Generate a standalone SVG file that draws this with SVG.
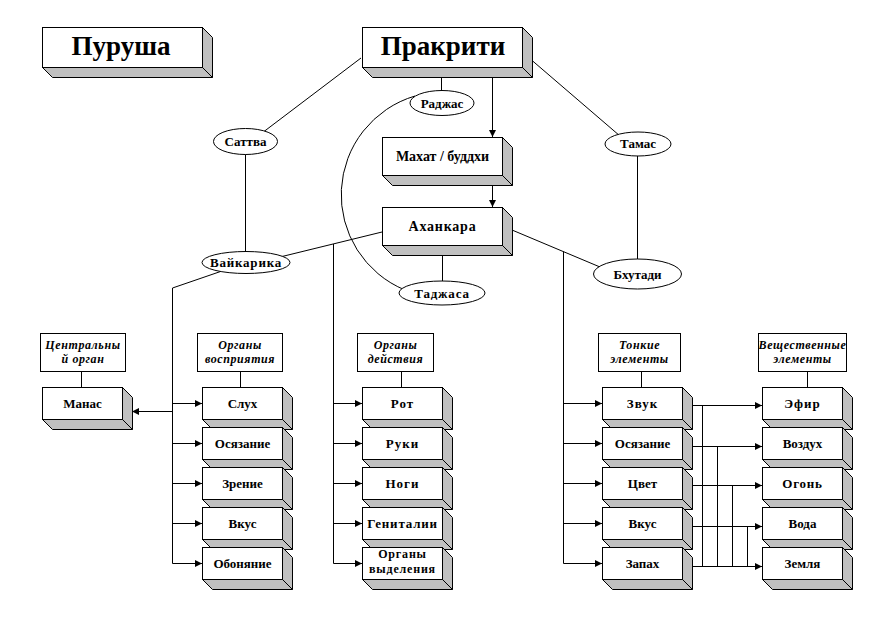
<svg xmlns="http://www.w3.org/2000/svg" width="890" height="618" viewBox="0 0 890 618">
<defs>
<marker id="ah" markerUnits="userSpaceOnUse" markerWidth="7" markerHeight="7" refX="7" refY="3.5" orient="auto">
<path d="M0,0 L7,3.5 L0,7 z" fill="#000"/>
</marker>
<style>
.s{fill:#c0c0c0;stroke:#000;stroke-width:1}
.f{fill:#fff;stroke:#000;stroke-width:1}
.e{fill:#fff;stroke:#000;stroke-width:1}
.k{stroke:#000;stroke-width:1}
.c path,.c line{fill:none;stroke:#000;stroke-width:1}
.a{marker-end:url(#ah)}
text{font-family:'Liberation Serif','DejaVu Serif',serif;font-weight:bold;text-anchor:middle;fill:#000}
.big{font-size:27px}
.mid{font-size:14px}
.sm{font-size:13px}
.el{font-size:13px}
.hd{font-size:12px;font-style:italic;letter-spacing:0.6px}
.two{font-size:12px;letter-spacing:0.8px}
</style>
</defs>
<rect width="890" height="618" fill="#fff"/>

<g id="connectors" class="c">
<line x1="361" y1="58" x2="262" y2="133"/>
<line x1="528" y1="57" x2="620" y2="136"/>
<line x1="441.5" y1="77" x2="441.5" y2="92"/>
<line class="a" x1="492.5" y1="77" x2="492.5" y2="137"/>
<line class="a" x1="492.5" y1="185" x2="492.5" y2="207"/>
<line x1="245.5" y1="150" x2="245.5" y2="256"/>
<line x1="382" y1="232" x2="280" y2="257"/>
<line x1="333.5" y1="244" x2="333.5" y2="563.5"/>
<path d="M222,271 L172.5,288 V563.5"/>
<line x1="442.5" y1="255" x2="442.5" y2="284"/>
<path d="M415,96 A103,103 0 0 0 405,290"/>
<line x1="512" y1="230" x2="600" y2="267"/>
<line x1="563.5" y1="251.5" x2="563.5" y2="563.5"/>
<line x1="637.5" y1="156" x2="637.5" y2="262"/>
<line x1="81.5" y1="372" x2="81.5" y2="388"/>
<line x1="240.5" y1="372" x2="240.5" y2="388"/>
<line x1="401.5" y1="372" x2="401.5" y2="388"/>
<line x1="641.5" y1="372" x2="641.5" y2="388"/>
<line x1="807.5" y1="372" x2="807.5" y2="388"/>
<line class="a" x1="172.5" y1="411.5" x2="132" y2="411.5"/>
<line class="a" x1="172.5" y1="403.5" x2="202" y2="403.5"/>
<line class="a" x1="172.5" y1="443.5" x2="202" y2="443.5"/>
<line class="a" x1="172.5" y1="483.5" x2="202" y2="483.5"/>
<line class="a" x1="172.5" y1="523.5" x2="202" y2="523.5"/>
<line class="a" x1="172.5" y1="563.5" x2="202" y2="563.5"/>
<line class="a" x1="333.5" y1="403.5" x2="362" y2="403.5"/>
<line class="a" x1="333.5" y1="443.5" x2="362" y2="443.5"/>
<line class="a" x1="333.5" y1="483.5" x2="362" y2="483.5"/>
<line class="a" x1="333.5" y1="523.5" x2="362" y2="523.5"/>
<line class="a" x1="333.5" y1="563.5" x2="362" y2="563.5"/>
<line class="a" x1="563.5" y1="403.5" x2="602" y2="403.5"/>
<line class="a" x1="563.5" y1="443.5" x2="602" y2="443.5"/>
<line class="a" x1="563.5" y1="483.5" x2="602" y2="483.5"/>
<line class="a" x1="563.5" y1="523.5" x2="602" y2="523.5"/>
<line class="a" x1="563.5" y1="563.5" x2="602" y2="563.5"/>
<line class="a" x1="685" y1="405.5" x2="762" y2="405.5"/>
<line class="a" x1="685" y1="446.5" x2="762" y2="446.5"/>
<line class="a" x1="685" y1="485.5" x2="762" y2="485.5"/>
<line class="a" x1="685" y1="526.5" x2="762" y2="526.5"/>
<line class="a" x1="685" y1="566.5" x2="762" y2="566.5"/>
<line x1="702.5" y1="405.5" x2="702.5" y2="566.5"/>
<line x1="717.5" y1="446.5" x2="717.5" y2="566.5"/>
<line x1="732.5" y1="485.5" x2="732.5" y2="566.5"/>
<line x1="747.5" y1="526.5" x2="747.5" y2="566.5"/>
</g>

<g id="purusha">
<polygon class="s" points="42.5,67.5 202.5,67.5 202.5,27.5 212.5,37.5 212.5,77.5 52.5,77.5"/>
<line class="k" x1="202.5" y1="67.5" x2="212.5" y2="77.5"/>
<rect class="f" x="42.5" y="27.5" width="160" height="40"/>
<text class="big" x="121" y="55">Пуруша</text>
</g>
<g id="prakriti">
<polygon class="s" points="362.5,67.5 522.5,67.5 522.5,27.5 532.5,37.5 532.5,77.5 372.5,77.5"/>
<line class="k" x1="522.5" y1="67.5" x2="532.5" y2="77.5"/>
<rect class="f" x="362.5" y="27.5" width="160" height="40"/>
<text class="big" x="443" y="55">Пракрити</text>
</g>
<g id="mahat">
<polygon class="s" points="382.5,175.5 502.5,175.5 502.5,137.5 512.5,147.5 512.5,185.5 392.5,185.5"/>
<line class="k" x1="502.5" y1="175.5" x2="512.5" y2="185.5"/>
<rect class="f" x="382.5" y="137.5" width="120" height="38"/>
<text class="mid" x="442.5" y="161">Махат / буддхи</text>
</g>
<g id="ahankara">
<polygon class="s" points="382.5,245.5 502.5,245.5 502.5,207.5 512.5,217.5 512.5,255.5 392.5,255.5"/>
<line class="k" x1="502.5" y1="245.5" x2="512.5" y2="255.5"/>
<rect class="f" x="382.5" y="207.5" width="120" height="38"/>
<text class="mid" x="442.5" y="231" style="letter-spacing:0.8px">Аханкара</text>
</g>

<g id="sattva"><ellipse class="e" cx="245.5" cy="141.5" rx="32" ry="13"/><text class="el" x="245.5" y="146">Саттва</text></g>
<g id="rajas"><ellipse class="e" cx="442" cy="103" rx="32" ry="12.5"/><text class="el" x="442" y="107.5">Раджас</text></g>
<g id="tamas"><ellipse class="e" cx="638" cy="144" rx="33" ry="12"/><text class="el" x="638" y="148">Тамас</text></g>
<g id="vaikarika"><ellipse class="e" cx="246" cy="262.5" rx="44" ry="11"/><text class="el" x="246" y="267" style="letter-spacing:0.8px">Вайкарика</text></g>
<g id="tajasa"><ellipse class="e" cx="442" cy="293" rx="43" ry="12"/><text class="el" x="442" y="297.5" style="letter-spacing:0.8px">Таджаса</text></g>
<g id="bhutadi"><ellipse class="e" cx="637.5" cy="274" rx="44" ry="15"/><text class="el" x="637.5" y="278.5">Бхутади</text></g>

<g id="h-central"><rect class="f" x="40.5" y="333.5" width="85" height="38"/><text class="hd" x="83" y="349">Центральны</text><text class="hd" x="83" y="363">й орган</text></g>
<g id="h-perception"><rect class="f" x="197.5" y="333.5" width="85" height="38"/><text class="hd" x="240" y="349">Органы</text><text class="hd" x="240" y="363">восприятия</text></g>
<g id="h-action"><rect class="f" x="357.5" y="333.5" width="76" height="38"/><text class="hd" x="395.5" y="349">Органы</text><text class="hd" x="395.5" y="363">действия</text></g>
<g id="h-subtle"><rect class="f" x="598.5" y="333.5" width="82" height="38"/><text class="hd" x="639.5" y="349">Тонкие</text><text class="hd" x="639.5" y="363">элементы</text></g>
<g id="h-gross"><rect class="f" x="758.5" y="333.5" width="88" height="38"/><text class="hd" x="802.5" y="349">Вещественные</text><text class="hd" x="802.5" y="363">элементы</text></g>

<g id="manas"><polygon class="s" points="42.5,419.5 122.5,419.5 122.5,387.5 132.5,397.5 132.5,429.5 52.5,429.5"/><line class="k" x1="122.5" y1="419.5" x2="132.5" y2="429.5"/><rect class="f" x="42.5" y="387.5" width="80" height="32"/><text class="sm" x="82.5" y="407.5">Манас</text></g>

<g id="sluh"><polygon class="s" points="202.5,419.5 282.5,419.5 282.5,387.5 292.5,397.5 292.5,429.5 212.5,429.5"/><line class="k" x1="282.5" y1="419.5" x2="292.5" y2="429.5"/><rect class="f" x="202.5" y="387.5" width="80" height="32"/><text class="sm" x="242.5" y="407.5">Слух</text></g>
<g id="osyazanie1"><polygon class="s" points="202.5,459.5 282.5,459.5 282.5,427.5 292.5,437.5 292.5,469.5 212.5,469.5"/><line class="k" x1="282.5" y1="459.5" x2="292.5" y2="469.5"/><rect class="f" x="202.5" y="427.5" width="80" height="32"/><text class="sm" x="242.5" y="447.5">Осязание</text></g>
<g id="zrenie"><polygon class="s" points="202.5,499.5 282.5,499.5 282.5,467.5 292.5,477.5 292.5,509.5 212.5,509.5"/><line class="k" x1="282.5" y1="499.5" x2="292.5" y2="509.5"/><rect class="f" x="202.5" y="467.5" width="80" height="32"/><text class="sm" x="242.5" y="487.5">Зрение</text></g>
<g id="vkus1"><polygon class="s" points="202.5,539.5 282.5,539.5 282.5,507.5 292.5,517.5 292.5,549.5 212.5,549.5"/><line class="k" x1="282.5" y1="539.5" x2="292.5" y2="549.5"/><rect class="f" x="202.5" y="507.5" width="80" height="32"/><text class="sm" x="242.5" y="527.5">Вкус</text></g>
<g id="obonyanie"><polygon class="s" points="202.5,579.5 282.5,579.5 282.5,547.5 292.5,557.5 292.5,589.5 212.5,589.5"/><line class="k" x1="282.5" y1="579.5" x2="292.5" y2="589.5"/><rect class="f" x="202.5" y="547.5" width="80" height="32"/><text class="sm" x="242.5" y="567.5">Обоняние</text></g>

<g id="rot"><polygon class="s" points="362.5,419.5 442.5,419.5 442.5,387.5 452.5,397.5 452.5,429.5 372.5,429.5"/><line class="k" x1="442.5" y1="419.5" x2="452.5" y2="429.5"/><rect class="f" x="362.5" y="387.5" width="80" height="32"/><text class="sm" x="402.5" y="407.5" style="letter-spacing:1px">Рот</text></g>
<g id="ruki"><polygon class="s" points="362.5,459.5 442.5,459.5 442.5,427.5 452.5,437.5 452.5,469.5 372.5,469.5"/><line class="k" x1="442.5" y1="459.5" x2="452.5" y2="469.5"/><rect class="f" x="362.5" y="427.5" width="80" height="32"/><text class="sm" x="402.5" y="447.5" style="letter-spacing:1px">Руки</text></g>
<g id="nogi"><polygon class="s" points="362.5,499.5 442.5,499.5 442.5,467.5 452.5,477.5 452.5,509.5 372.5,509.5"/><line class="k" x1="442.5" y1="499.5" x2="452.5" y2="509.5"/><rect class="f" x="362.5" y="467.5" width="80" height="32"/><text class="sm" x="402.5" y="487.5" style="letter-spacing:1px">Ноги</text></g>
<g id="genitalii"><polygon class="s" points="362.5,539.5 442.5,539.5 442.5,507.5 452.5,517.5 452.5,549.5 372.5,549.5"/><line class="k" x1="442.5" y1="539.5" x2="452.5" y2="549.5"/><rect class="f" x="362.5" y="507.5" width="80" height="32"/><text class="sm" x="402.5" y="527.5" style="letter-spacing:0.8px">Гениталии</text></g>
<g id="vydelenie"><polygon class="s" points="362.5,579.5 442.5,579.5 442.5,547.5 452.5,557.5 452.5,589.5 372.5,589.5"/><line class="k" x1="442.5" y1="579.5" x2="452.5" y2="589.5"/><rect class="f" x="362.5" y="547.5" width="80" height="32"/><text class="two" x="402.5" y="558">Органы</text><text class="two" x="402.5" y="573">выделения</text></g>

<g id="zvuk"><polygon class="s" points="602.5,419.5 682.5,419.5 682.5,387.5 692.5,397.5 692.5,429.5 612.5,429.5"/><line class="k" x1="682.5" y1="419.5" x2="692.5" y2="429.5"/><rect class="f" x="602.5" y="387.5" width="80" height="32"/><text class="sm" x="642.5" y="407.5" style="letter-spacing:1px">Звук</text></g>
<g id="osyazanie2"><polygon class="s" points="602.5,459.5 682.5,459.5 682.5,427.5 692.5,437.5 692.5,469.5 612.5,469.5"/><line class="k" x1="682.5" y1="459.5" x2="692.5" y2="469.5"/><rect class="f" x="602.5" y="427.5" width="80" height="32"/><text class="sm" x="642.5" y="447.5">Осязание</text></g>
<g id="tsvet"><polygon class="s" points="602.5,499.5 682.5,499.5 682.5,467.5 692.5,477.5 692.5,509.5 612.5,509.5"/><line class="k" x1="682.5" y1="499.5" x2="692.5" y2="509.5"/><rect class="f" x="602.5" y="467.5" width="80" height="32"/><text class="sm" x="642.5" y="487.5">Цвет</text></g>
<g id="vkus2"><polygon class="s" points="602.5,539.5 682.5,539.5 682.5,507.5 692.5,517.5 692.5,549.5 612.5,549.5"/><line class="k" x1="682.5" y1="539.5" x2="692.5" y2="549.5"/><rect class="f" x="602.5" y="507.5" width="80" height="32"/><text class="sm" x="642.5" y="527.5">Вкус</text></g>
<g id="zapah"><polygon class="s" points="602.5,579.5 682.5,579.5 682.5,547.5 692.5,557.5 692.5,589.5 612.5,589.5"/><line class="k" x1="682.5" y1="579.5" x2="692.5" y2="589.5"/><rect class="f" x="602.5" y="547.5" width="80" height="32"/><text class="sm" x="642.5" y="567.5">Запах</text></g>

<g id="efir"><polygon class="s" points="762.5,419.5 842.5,419.5 842.5,387.5 852.5,397.5 852.5,429.5 772.5,429.5"/><line class="k" x1="842.5" y1="419.5" x2="852.5" y2="429.5"/><rect class="f" x="762.5" y="387.5" width="80" height="32"/><text class="sm" x="802.5" y="407.5" style="letter-spacing:1px">Эфир</text></g>
<g id="vozduh"><polygon class="s" points="762.5,459.5 842.5,459.5 842.5,427.5 852.5,437.5 852.5,469.5 772.5,469.5"/><line class="k" x1="842.5" y1="459.5" x2="852.5" y2="469.5"/><rect class="f" x="762.5" y="427.5" width="80" height="32"/><text class="sm" x="802.5" y="447.5">Воздух</text></g>
<g id="ogon"><polygon class="s" points="762.5,499.5 842.5,499.5 842.5,467.5 852.5,477.5 852.5,509.5 772.5,509.5"/><line class="k" x1="842.5" y1="499.5" x2="852.5" y2="509.5"/><rect class="f" x="762.5" y="467.5" width="80" height="32"/><text class="sm" x="802.5" y="487.5" style="letter-spacing:0.8px">Огонь</text></g>
<g id="voda"><polygon class="s" points="762.5,539.5 842.5,539.5 842.5,507.5 852.5,517.5 852.5,549.5 772.5,549.5"/><line class="k" x1="842.5" y1="539.5" x2="852.5" y2="549.5"/><rect class="f" x="762.5" y="507.5" width="80" height="32"/><text class="sm" x="802.5" y="527.5">Вода</text></g>
<g id="zemlya"><polygon class="s" points="762.5,579.5 842.5,579.5 842.5,547.5 852.5,557.5 852.5,589.5 772.5,589.5"/><line class="k" x1="842.5" y1="579.5" x2="852.5" y2="589.5"/><rect class="f" x="762.5" y="547.5" width="80" height="32"/><text class="sm" x="802.5" y="567.5">Земля</text></g>
</svg>
